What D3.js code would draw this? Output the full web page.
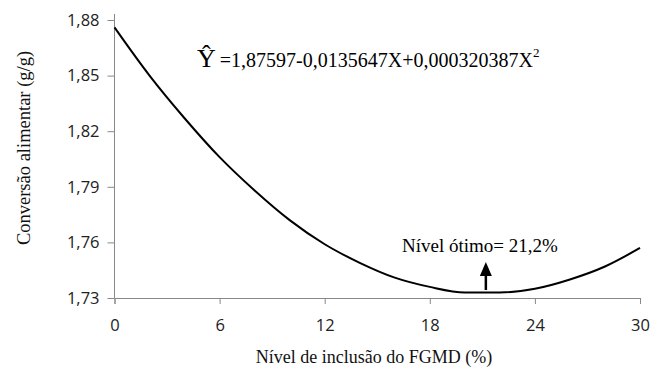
<!DOCTYPE html>
<html><head><meta charset="utf-8">
<script src="https://cdn.jsdelivr.net/npm/d3@7"></script>
<style>body{margin:0;background:#fff}svg{display:block}</style>
</head><body><svg id="c" width="651" height="369"></svg>
<script>
const xTicks = [0, 6, 12, 18, 24, 30];
const yTicks = [1.73, 1.76, 1.79, 1.82, 1.85, 1.88];
const xValues = [0, 2, 4, 6, 8, 10, 12, 14, 16, 18, 20, 22, 24, 26, 28, 30];
const yValues = [1.876, 1.850, 1.827, 1.806, 1.788, 1.772, 1.759, 1.749, 1.741, 1.736, 1.733, 1.733, 1.735, 1.740, 1.747, 1.757];
const optimum = 21.2;

const svg = d3.select("#c");
const x = d3.scaleLinear().domain([0, 30]).range([114.5, 640]);
const y = d3.scaleLinear().domain([1.73, 1.88]).range([298, 20]);
const axisColor = "#888888";
const sans = '"Open Sans", sans-serif';
const serif = '"Liberation Serif", "Times New Roman", serif';
const fmt = d => d3.format(".2f")(d).replace(".", ",");

// x axis
const gx = svg.append("g").attr("transform", `translate(0,${y(1.73)})`)
  .call(d3.axisBottom(x).tickValues(xTicks).tickSizeOuter(0).tickSize(6).tickPadding(15));
gx.select(".domain").attr("stroke", axisColor);
gx.selectAll(".tick line").attr("stroke", axisColor);
gx.selectAll(".tick text").attr("fill", "#222").style("font-family", sans).style("font-size", "16.5px");

// y axis
const gy = svg.append("g").attr("transform", `translate(${x(0)},0)`)
  .call(d3.axisLeft(y).tickValues(yTicks).tickFormat(fmt).tickSizeOuter(0).tickSize(7).tickPadding(8));
gy.select(".domain").remove();
gy.append("line").attr("x1", 0).attr("x2", 0).attr("y1", 14).attr("y2", y(1.73)).attr("stroke", axisColor);
gy.selectAll(".tick line").attr("stroke", axisColor);
gy.selectAll(".tick text").attr("fill", "#222").style("font-family", sans).style("font-size", "16.5px");

// curve
const pts = xValues.map((v, i) => [v, yValues[i]]);
svg.append("path").datum(pts)
  .attr("d", d3.line().x(d => x(d[0])).y(d => y(d[1])).curve(d3.curveMonotoneX))
  .attr("fill", "none").attr("stroke", "#000").attr("stroke-width", 2);

// titles
svg.append("text").attr("transform", `translate(30,${148}) rotate(-90)`)
  .attr("text-anchor", "middle").attr("fill", "#111")
  .style("font-family", serif).style("font-size", "18.5px")
  .text("Conversão alimentar (g/g)");
svg.append("text").attr("x", 374).attr("y", 363)
  .attr("text-anchor", "middle").attr("fill", "#111")
  .style("font-family", serif).style("font-size", "18px")
  .text("Nível de inclusão do FGMD (%)");

// equation
const eq = svg.append("text").attr("x", 197).attr("y", 67).attr("fill", "#000").style("font-family", serif);
eq.append("tspan").style("font-size", "26px").text("Ŷ");
eq.append("tspan").attr("dx", 4).style("font-size", "20px").text("=1,87597-0,0135647X+0,000320387X");
eq.append("tspan").style("font-size", "13px").attr("dy", -10).text("2");

// optimum annotation
svg.append("text").attr("x", 402).attr("y", 252).attr("fill", "#000")
  .style("font-family", serif).style("font-size", "19px")
  .text("Nível ótimo= 21,2%");
const ax = x(optimum);
svg.append("line").attr("x1", ax).attr("x2", ax).attr("y1", 272).attr("y2", 290).attr("stroke", "#000").attr("stroke-width", 2.5);
svg.append("path").attr("d", `M${ax - 6},${276} L${ax},${262} L${ax + 6},${276} Z`).attr("fill", "#000");
</script></body></html>
